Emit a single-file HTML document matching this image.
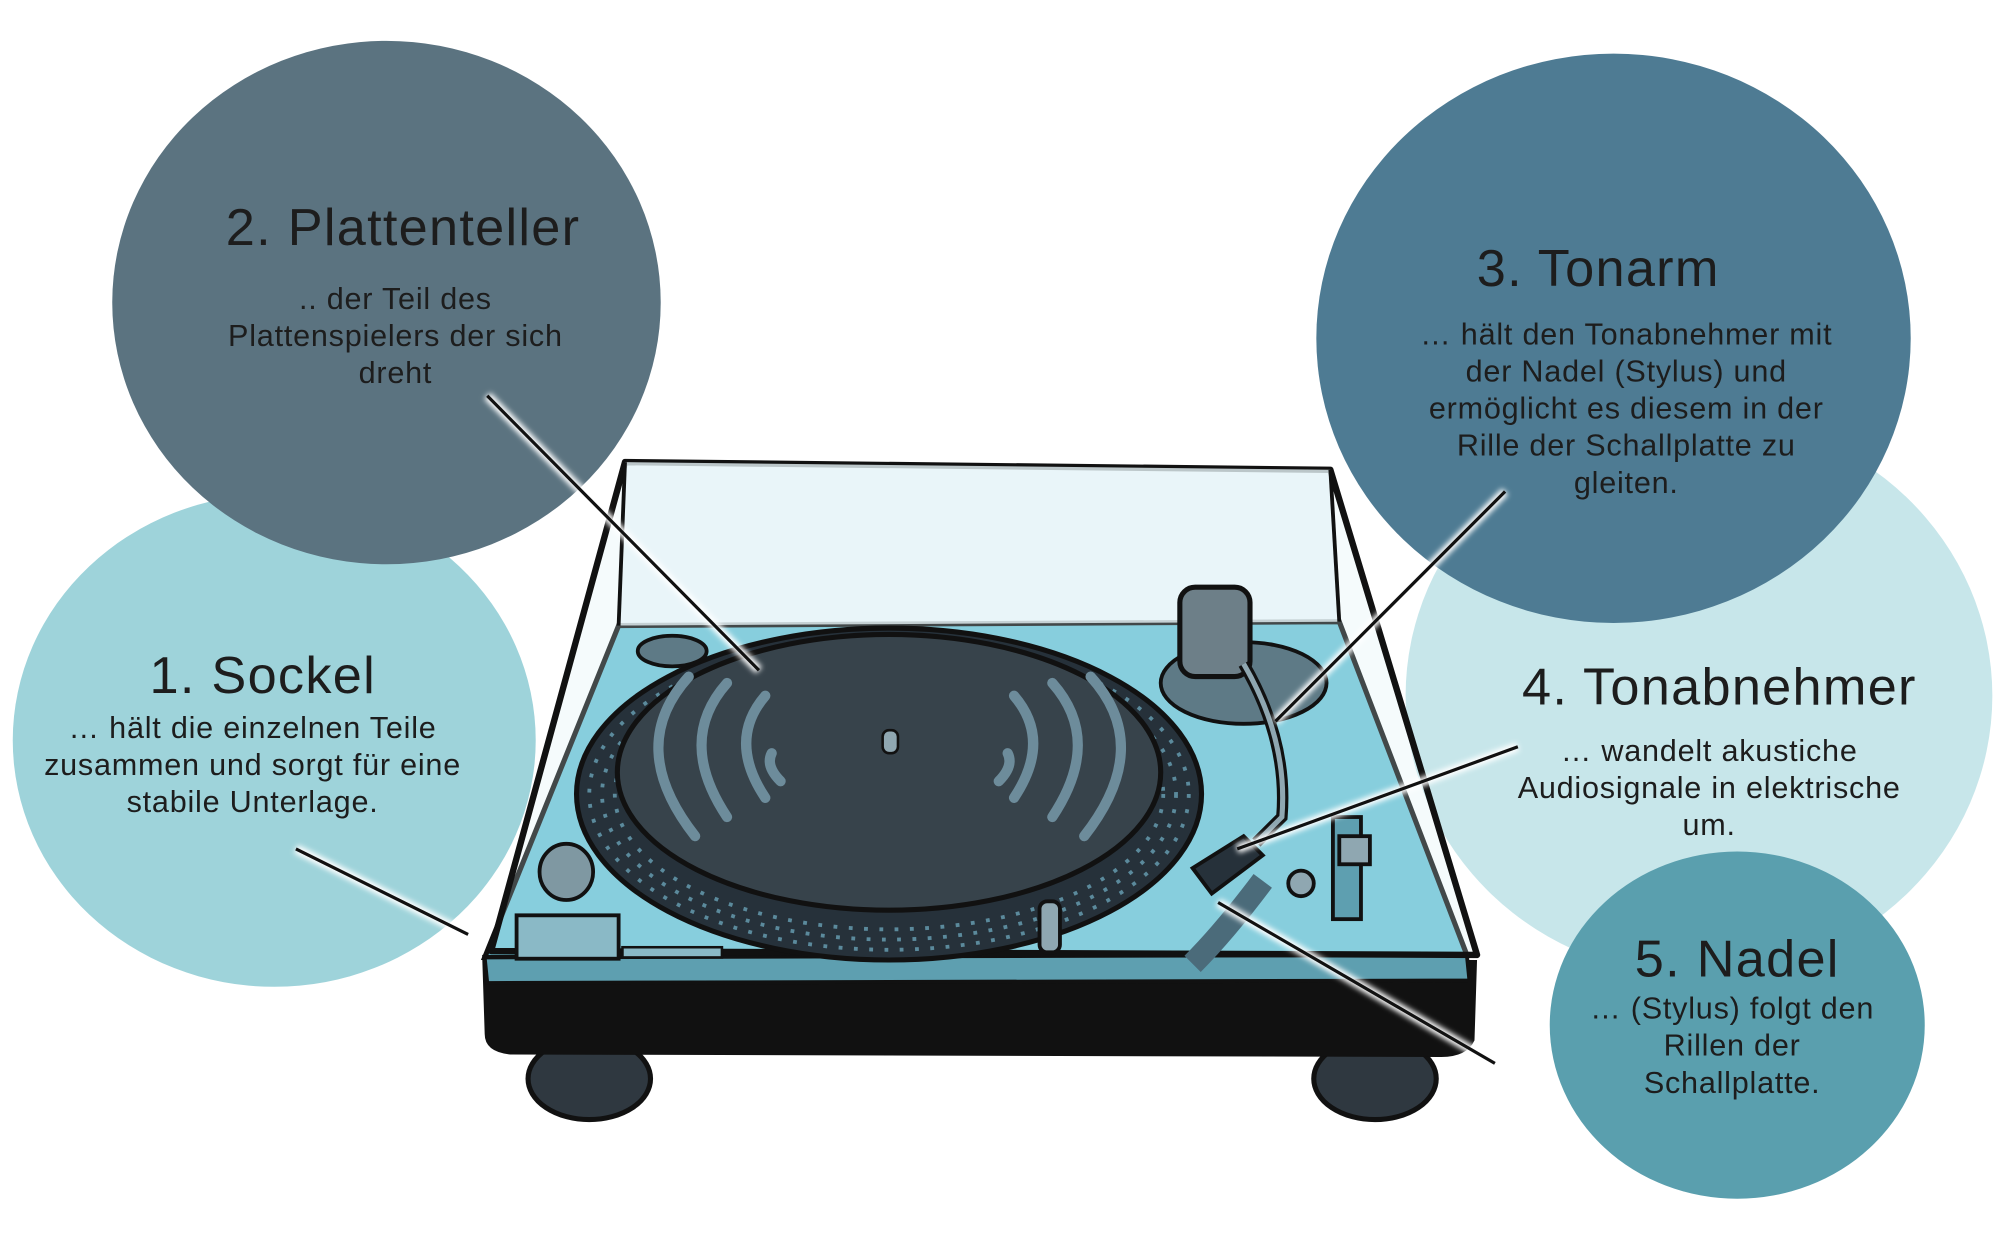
<!DOCTYPE html>
<html><head><meta charset="utf-8"><style>
html,body{margin:0;padding:0;background:#fff;}
svg{display:block;}
text{font-family:"Liberation Sans",sans-serif;fill:#1d1d1d;}
.t{font-size:41px;letter-spacing:1px;}
.b{font-size:24px;letter-spacing:0.6px;}
</style></head><body>
<svg width="2000" height="1260" viewBox="0 0 1568 987" preserveAspectRatio="none" xmlns="http://www.w3.org/2000/svg">
<defs>
<filter id="glow" x="-20%" y="-20%" width="140%" height="140%"><feGaussianBlur stdDeviation="2"/></filter>
</defs>
<ellipse cx="215" cy="580" rx="205" ry="193" fill="#9ed3da"/>
<ellipse cx="303" cy="237" rx="215" ry="205" fill="#5b7380"/>
<ellipse cx="1332" cy="545" rx="230" ry="220" fill="#c7e6ea"/>
<ellipse cx="1265" cy="265" rx="233" ry="223" fill="#4e7b93"/>
<ellipse cx="1362" cy="803" rx="147" ry="136" fill="#5a9fae"/>

<ellipse cx="462" cy="845" rx="48" ry="32" fill="#2f3840" stroke="#111" stroke-width="4"/>
<ellipse cx="1078" cy="845" rx="48" ry="32" fill="#2f3840" stroke="#111" stroke-width="4"/>
<path d="M378,748 L1158,752 L1156,815 Q1150,828 1130,828 L400,826 Q380,824 380,810 Z" fill="#111"/>
<polygon points="485,490 1050,487 1150,748 380,750" fill="#6cc3d6" stroke="#111" stroke-width="4"/>
<polygon points="380,750 1150,748 1152,768 382,770" fill="#5e9fb0" stroke="#111" stroke-width="3"/>
<polygon points="490,362 1043,368 1158,748 385,745" fill="#d8eef3" fill-opacity="0.25" stroke="#111" stroke-width="5" stroke-linejoin="round"/>
<polygon points="490,362 1043,368 1050,487 485,490" fill="#e6f4f7" fill-opacity="0.8"/>
<line x1="490" y1="362" x2="485" y2="490" stroke="#111" stroke-width="3"/>
<line x1="1043" y1="368" x2="1050" y2="487" stroke="#111" stroke-width="3"/>
<ellipse cx="697" cy="622" rx="245" ry="130" fill="#26313a" stroke="#111" stroke-width="4"/>
<ellipse cx="697" cy="622" rx="235" ry="122" fill="none" stroke="#5b8a9c" stroke-width="3" stroke-dasharray="3 9"/>
<ellipse cx="697" cy="622" rx="225" ry="114" fill="none" stroke="#5b8a9c" stroke-width="3" stroke-dasharray="3 9"/>
<ellipse cx="697" cy="622" rx="215" ry="106" fill="none" stroke="#5b8a9c" stroke-width="3" stroke-dasharray="3 9"/>
<ellipse cx="697" cy="605" rx="213" ry="108" fill="#37434b" stroke="#111" stroke-width="4"/>
<g fill="none" stroke="#6d8c9b" stroke-width="8" stroke-linecap="round">
<path d="M600,545 Q570,580 600,625"/>
<path d="M570,535 Q530,580 570,640"/>
<path d="M540,530 Q490,585 545,655"/>
<path d="M795,545 Q825,580 795,625"/>
<path d="M825,535 Q865,580 825,640"/>
<path d="M855,530 Q905,585 850,655"/>
<path d="M605,590 Q600,600 612,612"/>
<path d="M790,590 Q795,600 783,612"/>
</g>
<rect x="692" y="572" width="12" height="18" rx="5" fill="#8fa7b1" stroke="#111" stroke-width="2"/>
<ellipse cx="527" cy="510" rx="27" ry="12" fill="#5e7a86" stroke="#111" stroke-width="3"/>
<ellipse cx="444" cy="683" rx="21" ry="22" fill="#7f98a2" stroke="#111" stroke-width="3"/>
<rect x="405" y="717" width="80" height="34" fill="#8ab9c6" stroke="#111" stroke-width="3"/>
<rect x="488" y="742" width="78" height="8" fill="#8ab9c6" stroke="#111" stroke-width="2"/>
<rect x="815" y="706" width="16" height="40" rx="6" fill="#8fa7b1" stroke="#111" stroke-width="3"/>
<ellipse cx="975" cy="535" rx="65" ry="32" fill="#5e7a86" stroke="#111" stroke-width="3"/>
<rect x="925" y="460" width="55" height="70" rx="12" fill="#6d7f88" stroke="#111" stroke-width="4"/>
<path d="M975,520 Q1010,580 1005,640 L985,660" fill="none" stroke="#111" stroke-width="9"/>
<path d="M975,520 Q1010,580 1005,640 L985,660" fill="none" stroke="#8fa7b1" stroke-width="4"/>
<polygon points="935,680 975,655 990,670 950,700" fill="#26313a" stroke="#111" stroke-width="3"/>
<rect x="1045" y="640" width="22" height="80" fill="#5e9fb0" stroke="#111" stroke-width="3"/>
<rect x="1050" y="655" width="24" height="22" fill="#8fa7b1" stroke="#111" stroke-width="3"/>
<circle cx="1020" cy="692" r="10" fill="#8fa7b1" stroke="#111" stroke-width="3"/>
<path d="M990,690 Q960,730 935,755" fill="none" stroke="#4b6b7a" stroke-width="18"/>

<g stroke="#fff" stroke-width="7" filter="url(#glow)">
<line x1="232" y1="665" x2="367" y2="732"/>
<line x1="382" y1="310" x2="595" y2="525"/>
<line x1="1180" y1="385" x2="1000" y2="565"/>
<line x1="1190" y1="585" x2="970" y2="665"/>
<line x1="955" y1="707" x2="1172" y2="833"/>
</g>
<g stroke="#111" stroke-width="2.5">
<line x1="232" y1="665" x2="367" y2="732"/>
<line x1="382" y1="310" x2="595" y2="525"/>
<line x1="1180" y1="385" x2="1000" y2="565"/>
<line x1="1190" y1="585" x2="970" y2="665"/>
<line x1="955" y1="707" x2="1172" y2="833"/>
</g>

<g text-anchor="middle">
<text class="t" x="206" y="543">1. Sockel</text>
<text class="b" x="198" y="578">… hält die einzelnen Teile</text>
<text class="b" x="198" y="607">zusammen und sorgt für eine</text>
<text class="b" x="198" y="636">stabile Unterlage.</text>

<text class="t" x="316" y="192">2. Plattenteller</text>
<text class="b" x="310" y="242">.. der Teil des</text>
<text class="b" x="310" y="271">Plattenspielers der sich</text>
<text class="b" x="310" y="300">dreht</text>

<text class="t" x="1253" y="224">3. Tonarm</text>
<text class="b" x="1275" y="270">… hält den Tonabnehmer mit</text>
<text class="b" x="1275" y="299">der Nadel (Stylus) und</text>
<text class="b" x="1275" y="328">ermöglicht es diesem in der</text>
<text class="b" x="1275" y="357">Rille der Schallplatte zu</text>
<text class="b" x="1275" y="386">gleiten.</text>

<text class="t" x="1348" y="552">4. Tonabnehmer</text>
<text class="b" x="1340" y="596">… wandelt akustiche</text>
<text class="b" x="1340" y="625">Audiosignale in elektrische</text>
<text class="b" x="1340" y="654">um.</text>

<text class="t" x="1362" y="765">5. Nadel</text>
<text class="b" x="1358" y="798">… (Stylus) folgt den</text>
<text class="b" x="1358" y="827">Rillen der</text>
<text class="b" x="1358" y="856">Schallplatte.</text>
</g>
</svg>
</body></html>
